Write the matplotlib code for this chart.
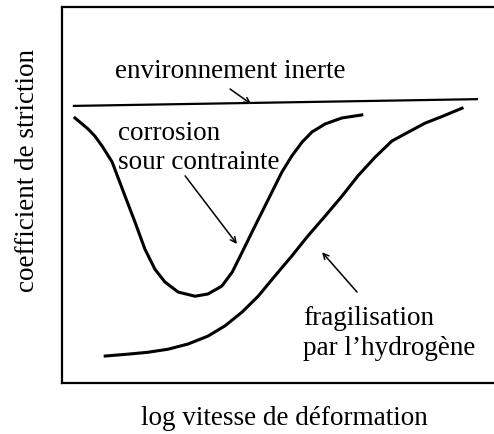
import matplotlib.pyplot as plt

plt.rcParams['font.family'] = ['Liberation Serif', 'DejaVu Serif']

# data (x: log strain rate, y: reduction of area, arbitrary units)
inerte_x = [0.25, 9.63]
inerte_y = [73.7, 75.5]

corrosion_x = [0.30, 0.60, 0.76, 0.93, 1.16, 1.46, 1.69, 1.92, 2.15, 2.38, 2.69, 3.08,
               3.38, 3.70, 3.94, 4.17, 4.40, 4.63, 4.86, 5.09, 5.32, 5.56, 5.79, 6.09,
               6.48, 6.94]
corrosion_y = [70.5, 67.6, 65.7, 63.0, 58.8, 49.7, 42.8, 35.6, 30.3, 26.9, 24.2, 23.1,
               23.7, 25.8, 29.5, 34.8, 40.2, 45.5, 50.8, 56.1, 60.4, 64.1, 66.8, 68.9,
               70.5, 71.3]

hydrogene_x = [1.00, 1.53, 1.99, 2.45, 2.92, 3.38, 3.77, 4.17, 4.54, 4.93, 5.32, 5.69,
               6.09, 6.48, 6.85, 7.25, 7.64, 8.06, 8.40, 8.80, 9.26]
hydrogene_y = [7.2, 7.7, 8.2, 9.0, 10.4, 12.5, 15.2, 18.9, 23.1, 28.5, 33.8, 39.1,
               44.4, 49.7, 55.1, 60.1, 64.4, 67.0, 69.1, 70.9, 73.1]

fig = plt.figure(figsize=(4.94, 4.35), dpi=100)
ax = fig.add_axes([0.1255, 0.117, 0.8745, 0.8646])

ax.plot(inerte_x, inerte_y, color='black', lw=1.6, solid_capstyle='butt')
ax.plot(corrosion_x, corrosion_y, color='black', lw=2.2, solid_joinstyle='round')
ax.plot(hydrogene_x, hydrogene_y, color='black', lw=2.2, solid_joinstyle='round')

arrow = dict(arrowstyle='->', color='black', lw=1.1, shrinkA=0, shrinkB=0)
ax.annotate('', xy=(4.38, 74.2), xytext=(3.89, 78.2), arrowprops=arrow)
ax.annotate('', xy=(4.05, 37.0), xytext=(2.85, 55.1), arrowprops=arrow)
ax.annotate('', xy=(6.02, 34.8), xytext=(6.83, 24.2), arrowprops=arrow)

fs = 19.5
ax.text(1.23, 83.0, 'environnement inerte', fontsize=fs, va='center', ha='left')
ax.text(1.30, 62.8, 'corrosion\nsour contrainte', fontsize=fs, va='center', ha='left',
        linespacing=1.25)
ax.text(5.58, 13.4, 'fragilisation\npar l\u2019hydrogène', fontsize=fs, va='center', ha='left',
        linespacing=1.25)

ax.set_xlim(0, 10)
ax.set_ylim(0, 100)
ax.set_xticks([])
ax.set_yticks([])
ax.spines['right'].set_visible(False)
for s in ['left', 'top', 'bottom']:
    ax.spines[s].set_linewidth(1.6)

fig.text(0.055, 0.607, 'coefficient de striction', fontsize=fs, rotation=90,
         ha='center', va='center')
fig.text(0.575, 0.037, 'log vitesse de déformation', fontsize=fs, ha='center', va='center')

fig.savefig('out.png', dpi=100)
